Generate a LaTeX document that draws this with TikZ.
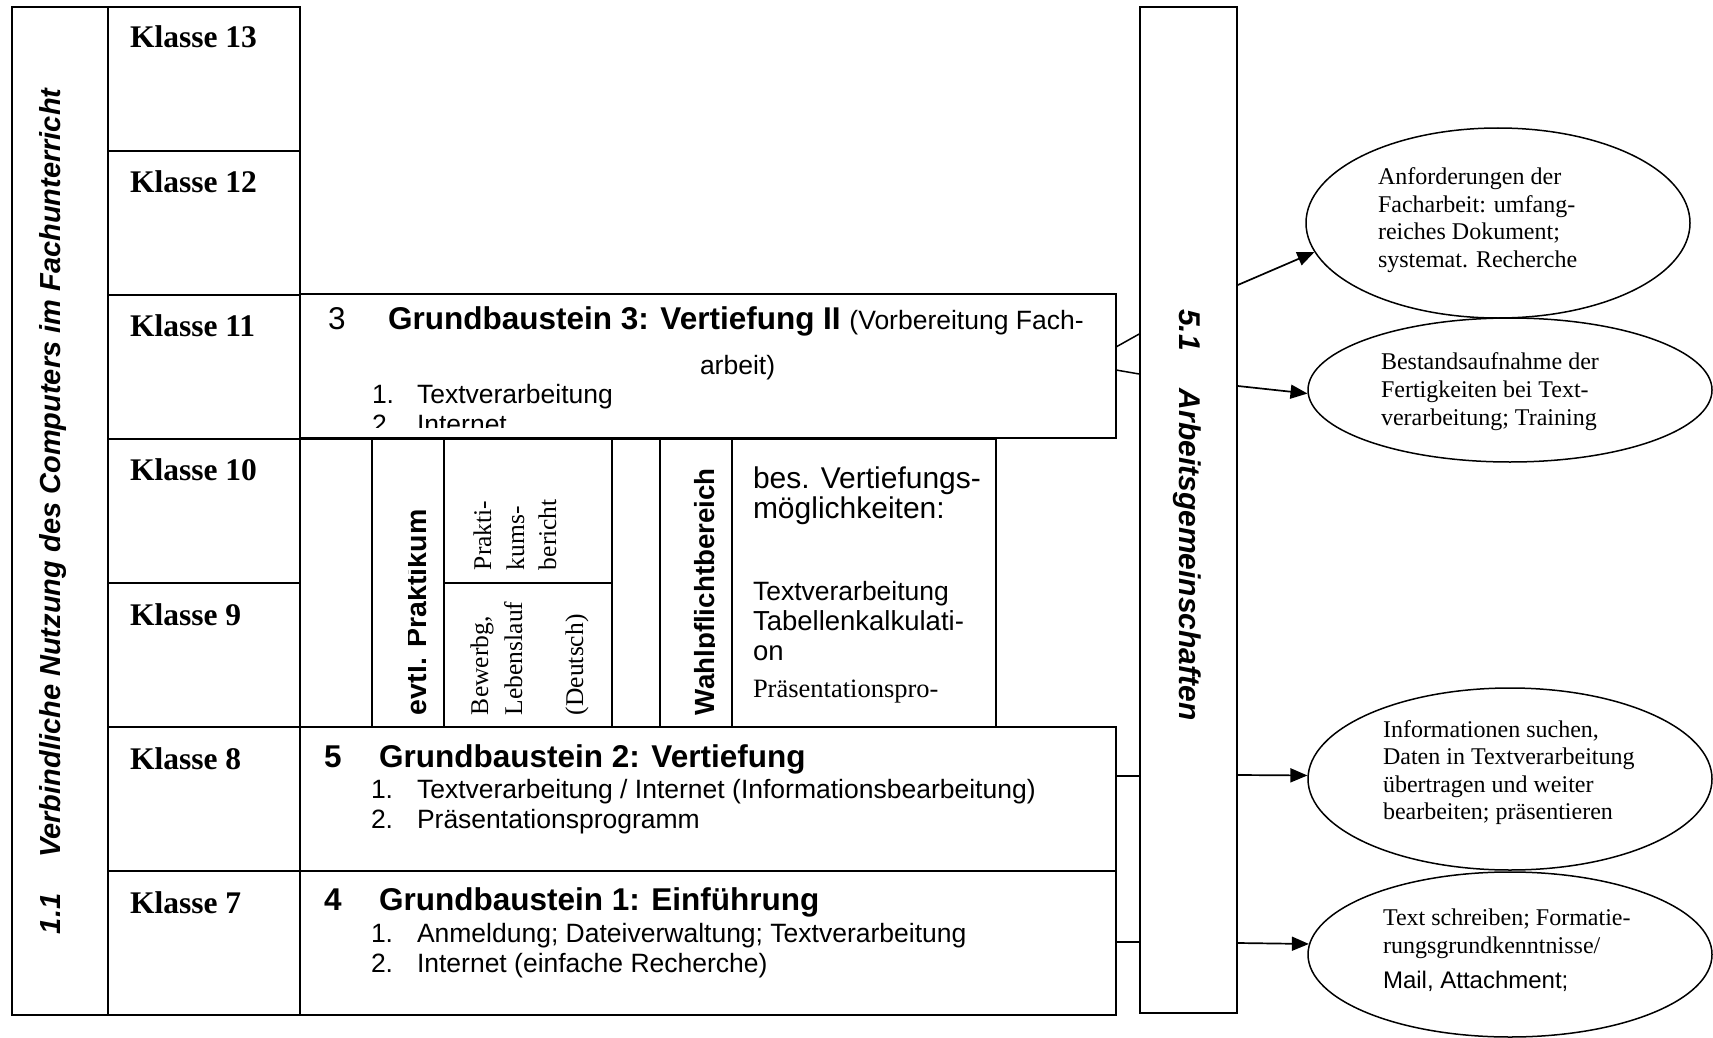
\documentclass[tikz,border=0pt]{standalone}
\usepackage{fontspec}
\setmainfont{Liberation Serif}
\setsansfont{Liberation Sans}
\usetikzlibrary{arrows.meta,shapes.geometric}
\begin{document}
\begin{tikzpicture}[x=1pt,y=-1pt,
  gridline/.style={draw,line width=2pt},
  cell/.style={gridline,inner sep=0pt,outer sep=0pt},
  lbl/.style={anchor=base west,inner sep=0pt,outer sep=0pt},
  klasse/.style={lbl,font=\fontsize{31.5}{36}\selectfont\bfseries},
  ghead/.style={lbl,font=\sffamily\fontsize{31.5}{36}\selectfont\bfseries},
  gnum/.style={lbl,font=\sffamily\fontsize{31.5}{36}\selectfont},
  gbody/.style={lbl,font=\sffamily\fontsize{26.5}{30}\selectfont},
  vtitle/.style={lbl,font=\sffamily\fontsize{29}{33}\selectfont\bfseries\itshape},
  vbold/.style={lbl,rotate=90,font=\sffamily\fontsize{28.5}{33}\selectfont\bfseries},
  vserif/.style={lbl,rotate=90,font=\fontsize{25.5}{30}\selectfont},
  oval/.style={ellipse,draw,line width=1.5pt,inner sep=0pt},
  otext/.style={lbl,font=\fontsize{24}{28}\selectfont},
  arr/.style={line width=1.7pt,-{Triangle[length=17pt,width=14pt]}},
  link/.style={line width=1.5pt},
]
\useasboundingbox (0,0) rectangle (1713,1038);

% left column
\node[cell,minimum width=96pt,minimum height=1008pt] (leftcol) at (60,511) {};
\node[vtitle,rotate=90] (lefttext) at (60,934) {1.1\hspace{36pt}Verbindliche Nutzung des Computers im Fachunterricht};

% Klasse column
\node[cell,minimum width=192pt,minimum height=144pt] (k13) at (204,79) {};
\node[cell,minimum width=192pt,minimum height=144pt] (k12) at (204,223) {};
\node[cell,minimum width=192pt,minimum height=144pt] (k11) at (204,367) {};
\node[cell,minimum width=192pt,minimum height=144pt] (k10) at (204,511) {};
\node[cell,minimum width=192pt,minimum height=144pt] (k9) at (204,655) {};
\node[cell,minimum width=192pt,minimum height=144pt] (k8) at (204,799) {};
\node[cell,minimum width=192pt,minimum height=144pt] (k7) at (204,943) {};
\node[klasse] (k13t) at (130,48) {Klasse 13};
\node[klasse] (k12t) at (130,192) {Klasse 12};
\node[klasse] (k11t) at (130,336) {Klasse 11};
\node[klasse] (k10t) at (130,480) {Klasse 10};
\node[klasse] (k9t) at (130,625) {Klasse 9};
\node[klasse] (k8t) at (130,769) {Klasse 8};
\node[klasse] (k7t) at (130,913) {Klasse 7};

% Grundbaustein boxes
\node[cell,minimum width=816pt,minimum height=144pt] (gb3) at (708,366) {};
\node[cell,minimum width=816pt,minimum height=144pt] (gb2) at (708,799) {};
\node[cell,minimum width=816pt,minimum height=144pt] (gb1) at (708,943) {};

\begin{scope}
\clip (301,295) rectangle (1115,427);
\node[gnum] (g3n) at (328,329) {3};
\node[ghead] (g3h) at (388,329) {Grundbaustein 3: Vertiefung II {\mdseries\fontsize{26.5}{30}\selectfont (Vorbereitung Fach-}};
\node[gbody] (g3h2) at (700,374) {arbeit)};
\node[gbody] (g3a) at (372,403) {1.};
\node[gbody] (g3at) at (417,403) {Textverarbeitung};
\node[gbody] (g3b) at (372,433) {2.};
\node[gbody] (g3bt) at (417,433) {Internet};
\end{scope}

\node[ghead] (g2n) at (324,767) {5};
\node[ghead] (g2h) at (379,767) {Grundbaustein 2: Vertiefung};
\node[gbody] (g2a) at (371,798) {1.};
\node[gbody] (g2at) at (417,798) {Textverarbeitung / Internet (Informationsbearbeitung)};
\node[gbody] (g2b) at (371,828) {2.};
\node[gbody] (g2bt) at (417,828) {Präsentationsprogramm};

\node[ghead] (g1n) at (324,910) {4};
\node[ghead] (g1h) at (379,910) {Grundbaustein 1: Einführung};
\node[gbody] (g1a) at (371,942) {1.};
\node[gbody] (g1at) at (417,942) {Anmeldung; Dateiverwaltung; Textverarbeitung};
\node[gbody] (g1b) at (371,972) {2.};
\node[gbody] (g1bt) at (417,972) {Internet (einfache Recherche)};

% middle row cells (Klasse 9/10)
\node[cell,minimum width=72pt,minimum height=288pt] (m0) at (336,583) {};
\node[cell,minimum width=72pt,minimum height=288pt] (m1) at (408,583) {};
\node[cell,minimum width=168pt,minimum height=144pt] (m2a) at (528,511) {};
\node[cell,minimum width=168pt,minimum height=144pt] (m2b) at (528,655) {};
\node[cell,minimum width=48pt,minimum height=288pt] (m3) at (636,583) {};
\node[cell,minimum width=72pt,minimum height=288pt] (m4) at (696,583) {};
\node[cell,minimum width=264pt,minimum height=288pt] (m5) at (864,583) {};

\begin{scope}
\clip (408,440) rectangle (443,726);
\node[vbold] (prak) at (426,715) {evtl. Praktikum};
\end{scope}
\node[vserif] (pb1) at (491,570) {Prakti-};
\node[vserif] (pb2) at (524,570) {kums-};
\node[vserif] (pb3) at (556,570) {bericht};
\node[vserif] (bw1) at (488,715) {Bewerbg,};
\node[vserif] (bw2) at (522,715) {Lebenslauf};
\node[vserif] (bw3) at (583,715) {(Deutsch)};
\begin{scope}
\clip (661,440) rectangle (714,726);
\node[vbold,font=\sffamily\fontsize{27.7}{32}\selectfont\bfseries] (wahl) at (714,715) {Wahlpflichtbereich};
\end{scope}
\node[lbl,font=\sffamily\fontsize{30}{34}\selectfont] (bes1) at (753,488) {bes. Vertiefungs-};
\node[lbl,font=\sffamily\fontsize{30}{34}\selectfont] (bes2) at (753,518) {möglichkeiten:};
\node[lbl,font=\sffamily\fontsize{26.5}{30}\selectfont] (bes3) at (753,600) {Textverarbeitung};
\node[lbl,font=\sffamily\fontsize{27.5}{30}\selectfont] (bes4) at (753,630) {Tabellenkalkulati-};
\node[lbl,font=\sffamily\fontsize{27.5}{30}\selectfont] (bes5) at (753,660) {on};
\node[lbl,font=\fontsize{26.5}{30}\selectfont] (bes6) at (753,697) {Präsentationspro-};

% Arbeitsgemeinschaften box
\node[draw,line width=1.6pt,inner sep=0pt,minimum width=97pt,minimum height=1006pt] (ag) at (1188.5,510) {};
\node[vtitle,rotate=-90,font=\sffamily\fontsize{30}{34}\selectfont\bfseries\itshape] (agt) at (1179,309) {5.1\hspace{38pt}Arbeitsgemeinschaften};

% links from Grundbausteine to AG
\draw[link] ([yshift=19pt]gb3.east) -- ([yshift=176pt]ag.west);
\draw[link] ([yshift=-4pt]gb3.east) -- ([yshift=136pt]ag.west);
\draw[link] ([yshift=23pt]gb2.east) -- ([yshift=-266pt]ag.west);
\draw[link] ([yshift=1pt]gb1.east) -- ([yshift=-432pt]ag.west);

% ellipses
\node[oval,minimum width=384pt,minimum height=190pt] (e1) at (1498,223) {};
\node[oval,minimum width=404pt,minimum height=144pt] (e2) at (1510,390) {};
\node[oval,minimum width=404pt,minimum height=182pt] (e3) at (1510,779) {};
\node[oval,minimum width=404pt,minimum height=165pt] (e4) at (1510,954.5) {};

\node[otext] (e1a) at (1378,184) {Anforderungen der};
\node[otext] (e1b) at (1378,212) {Facharbeit: umfang-};
\node[otext] (e1c) at (1378,239) {reiches Dokument;};
\node[otext] (e1d) at (1378,267) {systemat. Recherche};

\node[otext] (e2a) at (1381,369) {Bestandsaufnahme der};
\node[otext] (e2b) at (1381,397) {Fertigkeiten bei Text-};
\node[otext] (e2c) at (1381,425) {verarbeitung; Training};

\node[otext] (e3a) at (1383,737) {Informationen suchen,};
\node[otext] (e3b) at (1383,764) {Daten in Textverarbeitung};
\node[otext] (e3c) at (1383,792) {übertragen und weiter};
\node[otext] (e3d) at (1383,819) {bearbeiten; präsentieren};

\node[otext] (e4a) at (1383,925) {Text schreiben; Formatie-};
\node[otext] (e4b) at (1383,953) {rungsgrundkenntnisse/};
\node[otext,font=\sffamily\fontsize{24}{28}\selectfont] (e4c) at (1383,988) {Mail, Attachment;};

% arrows from AG to ellipses
\draw[arr] ([yshift=225pt]ag.east) -- (e1.189);
\draw[arr] ([yshift=124pt]ag.east) -- (e2.181);
\draw[arr] ([yshift=-265pt]ag.east) -- (e3.179);
\draw[arr] ([yshift=-433pt]ag.east) -- (e4.177);
\end{tikzpicture}
\end{document}
